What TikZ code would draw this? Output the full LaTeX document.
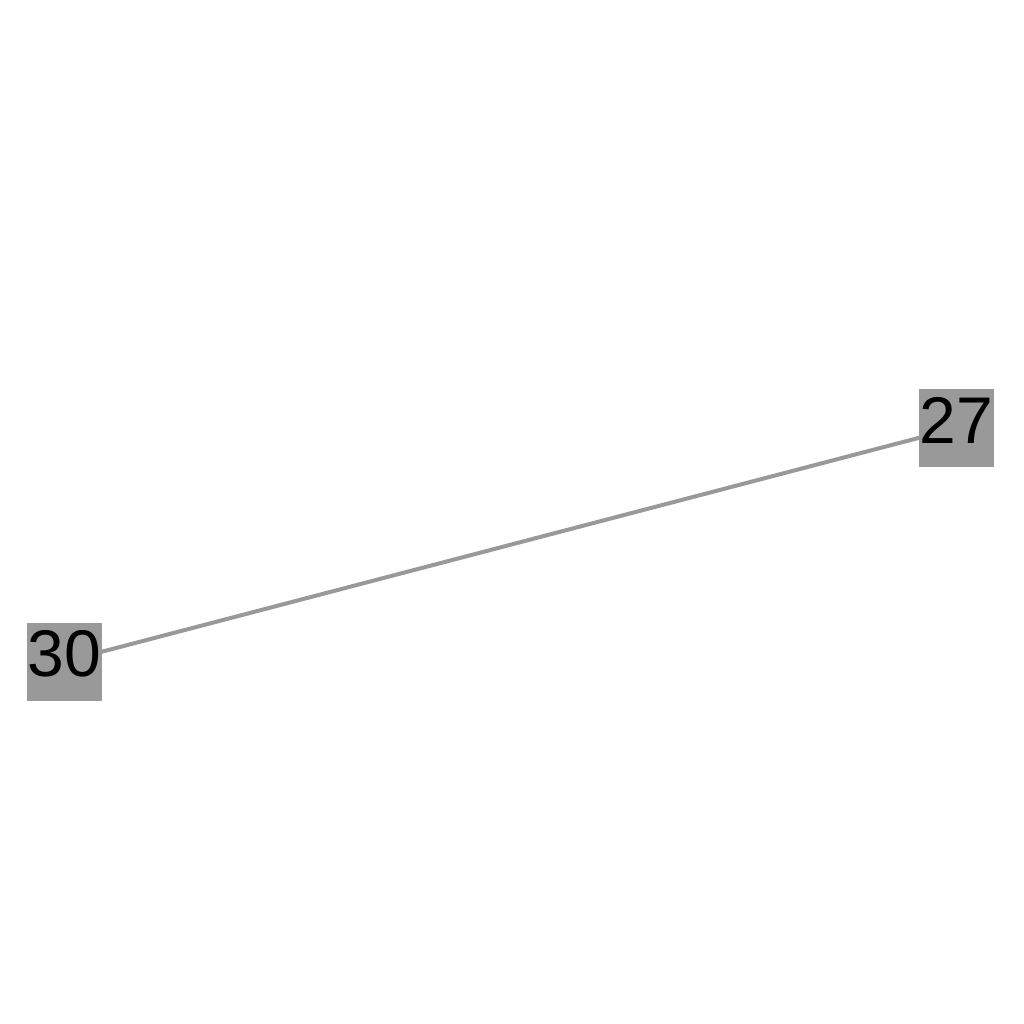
\documentclass[tikz,border=0pt]{standalone}
\usepackage{fontspec}
\setmainfont{Liberation Sans}
\usepackage{tikz}
\usetikzlibrary{backgrounds}
\definecolor{nodegray}{HTML}{999999}
\tikzset{
    vertex/.style={fill=nodegray, draw=none, inner sep=0pt, minimum width=75pt,
        text height=54pt, text depth=24pt, font=\fontsize{66pt}{66pt}\selectfont},
    link/.style={draw=nodegray, line width=4pt},
}
\begin{document}
\begin{tikzpicture}[x=1pt, y=-1pt]
	\useasboundingbox (0,0) rectangle (1024,1024);
	\node[vertex] (n27) at (956.5,428) {27};
	\node[vertex] (n30) at (64.5,661.5) {30};
\begin{scope}[on background layer]
	\draw[link] (n30.center)--(n27.center);
\end{scope}
\end{tikzpicture}
\end{document}
